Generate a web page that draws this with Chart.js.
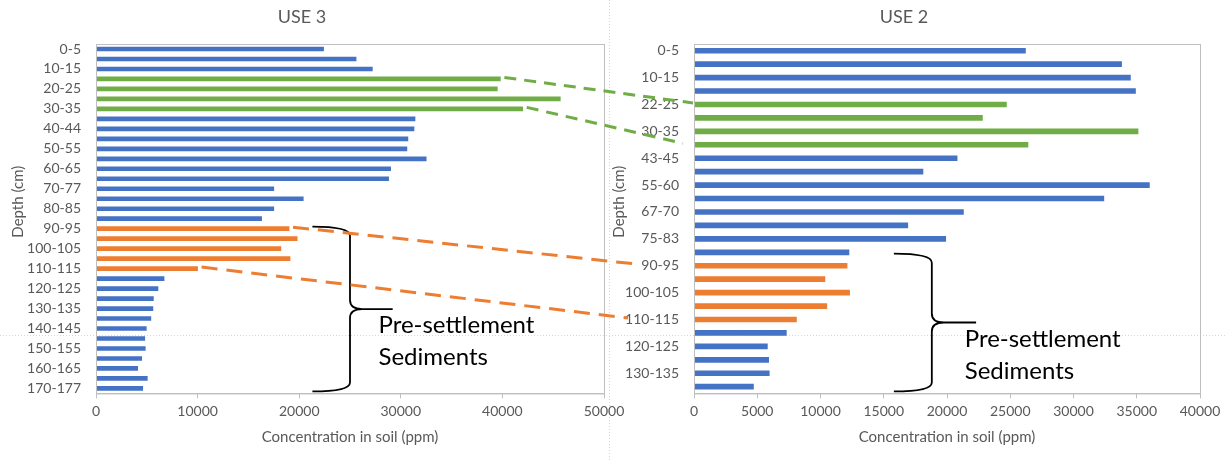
<!DOCTYPE html>
<html>
<head>
<meta charset="utf-8">
<script src="https://cdn.jsdelivr.net/npm/chart.js@4/dist/chart.umd.min.js"></script>
<style>
  html, body { margin: 0; padding: 0; background: #fff; }
  #wrap { position: relative; width: 1225px; height: 462px; overflow: hidden; }
  canvas { position: absolute; top: 0; }
  #sheet, #overlay { left: 0; }
  #use3 { left: 0; }
  #use2 { left: 608px; }
  #overlay { pointer-events: none; }
</style>
</head>
<body>
<div id="wrap">
  <canvas id="sheet" width="1225" height="462"></canvas>
  <canvas id="use3" width="626" height="462"></canvas>
  <canvas id="use2" width="617" height="462"></canvas>
  <canvas id="overlay" width="1225" height="462"></canvas>
</div>
<script>
// USE 3 core
const use3Depths = ['0-5', '5-10', '10-15', '15-20', '20-25', '25-30', '30-35', '35-40', '40-44', '44-50',
  '50-55', '55-60', '60-65', '65-70', '70-77', '77-80', '80-85', '85-90', '90-95', '95-100',
  '100-105', '105-110', '110-115', '115-120', '120-125', '125-130', '130-135', '135-140', '140-145',
  '145-150', '150-155', '155-160', '160-165', '165-170', '170-177'];
const use3Values = [22400, 25600, 27200, 39800, 39500, 45700, 42000, 31400, 31300, 30700,
  30600, 32500, 29000, 28800, 17500, 20400, 17500, 16300, 19000, 19800,
  18200, 19100, 10000, 6700, 6100, 5650, 5600, 5400, 4950,
  4800, 4850, 4500, 4100, 5050, 4600];
const use3Marker = [3, 6];      // green layer (first, last index)
const use3PreSettle = [18, 22]; // orange layer

// USE 2 core
const use2Depths = ['0-5', '5-10', '10-15', '15-22', '22-25', '25-30', '30-35', '35-43', '43-45', '45-55',
  '55-60', '60-67', '67-70', '70-75', '75-83', '83-90', '90-95', '95-100', '100-105', '105-110',
  '110-115', '115-120', '120-125', '125-130', '130-135', '135-140'];
const use2Values = [26200, 33800, 34500, 34900, 24700, 22800, 35100, 26400, 20800, 18100,
  36000, 32400, 21300, 16900, 19900, 12250, 12100, 10350, 12300, 10500,
  8100, 7300, 5800, 5900, 5950, 4700];
const use2Marker = [4, 7];
const use2PreSettle = [16, 20];

const BLUE = '#4472c4';
const GREEN = '#70ad47';
const ORANGE = '#ed7d31';
const TEXT = '#595959';
const AXIS = '#bfbfbf';
const FONT = 'Lato, "Open Sans", sans-serif';

// dashed links between the two cores: [use3 bar, use2 bar]
const links = [
  { from: 3, to: 4, color: GREEN, reach: -1, dash: [12, 8] },
  { from: 6, to: 7, color: GREEN, reach: -11, dash: [12, 8] },
  { from: 18, to: 16, color: ORANGE, reach: -56, dash: [16, 9] },
  { from: 22, to: 20, color: ORANGE, reach: -66, dash: [16, 9] },
];

function layerColors(values, marker, pre) {
  return values.map((v, i) => {
    if (i >= marker[0] && i <= marker[1]) return GREEN;
    if (i >= pre[0] && i <= pre[1]) return ORANGE;
    return BLUE;
  });
}

function drawBrace(ctx, xs, xm, xt, y0, y1) {
  const ym = (y0 + y1) / 2;
  const r = 9;
  ctx.beginPath();
  ctx.moveTo(xs, y0);
  ctx.quadraticCurveTo(xm, y0, xm, y0 + r);
  ctx.lineTo(xm, ym - r);
  ctx.quadraticCurveTo(xm, ym, xm + r + 3, ym);
  ctx.lineTo(xt, ym);
  ctx.moveTo(xm + r + 3, ym);
  ctx.quadraticCurveTo(xm, ym, xm, ym + r);
  ctx.lineTo(xm, y1 - r);
  ctx.quadraticCurveTo(xm, y1, xs, y1);
  ctx.stroke();
  return ym;
}

const decorations = {
  id: 'decorations',
  afterDraw(chart, args, opts) {
    const { ctx, chartArea: a, scales: { x, y } } = chart;
    ctx.save();
    // plot frame
    ctx.strokeStyle = AXIS;
    ctx.lineWidth = 1;
    ctx.strokeRect(a.left + 0.5, a.top + 0.5, a.right - a.left, a.bottom - a.top);

    // y axis title
    ctx.fillStyle = TEXT;
    ctx.font = '15px ' + FONT;
    ctx.textAlign = 'center';
    ctx.textBaseline = 'middle';
    ctx.translate(opts.titleX, (a.top + a.bottom) / 2 - 17);
    ctx.rotate(-Math.PI / 2);
    ctx.fillText('Depth (cm)', 0, 0);
    ctx.setTransform(1, 0, 0, 1, 0, 0);

    // brace and label
    const b = opts.brace;
    ctx.strokeStyle = '#000';
    ctx.lineWidth = 1.8;
    const ym = drawBrace(ctx, x.getPixelForValue(b.from), x.getPixelForValue(b.spine),
      x.getPixelForValue(b.tip), y.getPixelForValue(b.top), a.bottom - 2);
    ctx.fillStyle = '#000';
    ctx.font = '24px ' + FONT;
    ctx.textAlign = 'left';
    ctx.textBaseline = 'alphabetic';
    const tx = x.getPixelForValue(b.text);
    ctx.fillText('Pre-settlement', tx, ym + 24);
    ctx.fillText('Sediments', tx, ym + 56);
    ctx.restore();
  },
};

function buildChart(id, cfg) {
  return new Chart(document.getElementById(id), {
    type: 'bar',
    data: {
      labels: cfg.labels,
      datasets: [{
        data: cfg.values,
        backgroundColor: cfg.colors,
        barThickness: cfg.barThickness,
        borderWidth: 0,
      }],
    },
    options: {
      indexAxis: 'y',
      responsive: false,
      animation: false,
      layout: { padding: { left: 0, right: cfg.padRight, top: 0, bottom: 15.8 } },
      plugins: {
        legend: { display: false },
        tooltip: { enabled: false },
        title: {
          display: true,
          text: cfg.title,
          color: TEXT,
          font: { family: FONT, size: 18, weight: 'normal' },
          padding: { top: 6, bottom: 16.4 },
        },
        decorations: { titleX: cfg.titleX, brace: cfg.brace },
      },
      scales: {
        x: {
          min: 0,
          max: cfg.max,
          afterFit(s) { s.paddingRight = 0; s.paddingLeft = 0; },
          ticks: {
            stepSize: cfg.step,
            color: TEXT,
            padding: 5,
            font: { family: FONT, size: 14 },
            callback: (v) => v,
          },
          grid: { drawOnChartArea: false, drawTicks: true, tickLength: 5, color: AXIS },
          border: { color: AXIS },
          title: {
            display: true,
            text: 'Concentration in soil (ppm)',
            color: TEXT,
            font: { family: FONT, size: 15 },
            padding: { top: 3, bottom: 0 },
          },
        },
        y: {
          afterFit(s) { s.width = cfg.axisWidth; },
          ticks: {
            autoSkip: false,
            padding: 15,
            color: TEXT,
            font: { family: FONT, size: 14 },
            callback(v, i) { return i % 2 === 0 ? this.getLabelForValue(v) : ''; },
          },
          grid: { display: false, drawTicks: false },
          border: { color: AXIS },
        },
      },
    },
    plugins: [decorations],
  });
}

// spreadsheet cell lines behind the charts
const sheet = document.getElementById('sheet').getContext('2d');
sheet.strokeStyle = '#d6d6d6';
sheet.lineWidth = 1;
sheet.setLineDash([1, 2]);
sheet.beginPath();
sheet.moveTo(609.5, 0);
sheet.lineTo(609.5, 462);
sheet.moveTo(0, 335.5);
sheet.lineTo(1225, 335.5);
sheet.stroke();

const use3Chart = buildChart('use3', {
  title: 'USE 3',
  labels: use3Depths,
  values: use3Values,
  colors: layerColors(use3Values, use3Marker, use3PreSettle),
  max: 50000,
  step: 10000,
  barThickness: 4,
  axisWidth: 96,
  padRight: 22,
  titleX: 18,
  brace: { top: 17.8, from: 21300, spine: 25000, tip: 29200, text: 27800 },
});

const use2Chart = buildChart('use2', {
  title: 'USE 2',
  labels: use2Depths,
  values: use2Values,
  colors: layerColors(use2Values, use2Marker, use2PreSettle),
  max: 40000,
  step: 5000,
  barThickness: 5,
  axisWidth: 86,
  padRight: 25,
  titleX: 11,
  brace: { top: 15.1, from: 15800, spine: 18800, tip: 22300, text: 21400 },
});

// dashed connectors across both charts
const OFFSET2 = 608;
const ov = document.getElementById('overlay').getContext('2d');
ov.lineWidth = 3;
links.forEach((l) => {
  const x1 = use3Chart.scales.x.getPixelForValue(use3Values[l.from]) + 4;
  const y1 = use3Chart.scales.y.getPixelForValue(l.from) - 1.5;
  const x2 = OFFSET2 + use2Chart.chartArea.left + l.reach;
  const y2 = use2Chart.scales.y.getPixelForValue(l.to) - 1.5;
  ov.strokeStyle = l.color;
  ov.setLineDash(l.dash);
  ov.beginPath();
  ov.moveTo(x1, y1);
  ov.lineTo(x2, y2);
  ov.stroke();
});
</script>
</body>
</html>
